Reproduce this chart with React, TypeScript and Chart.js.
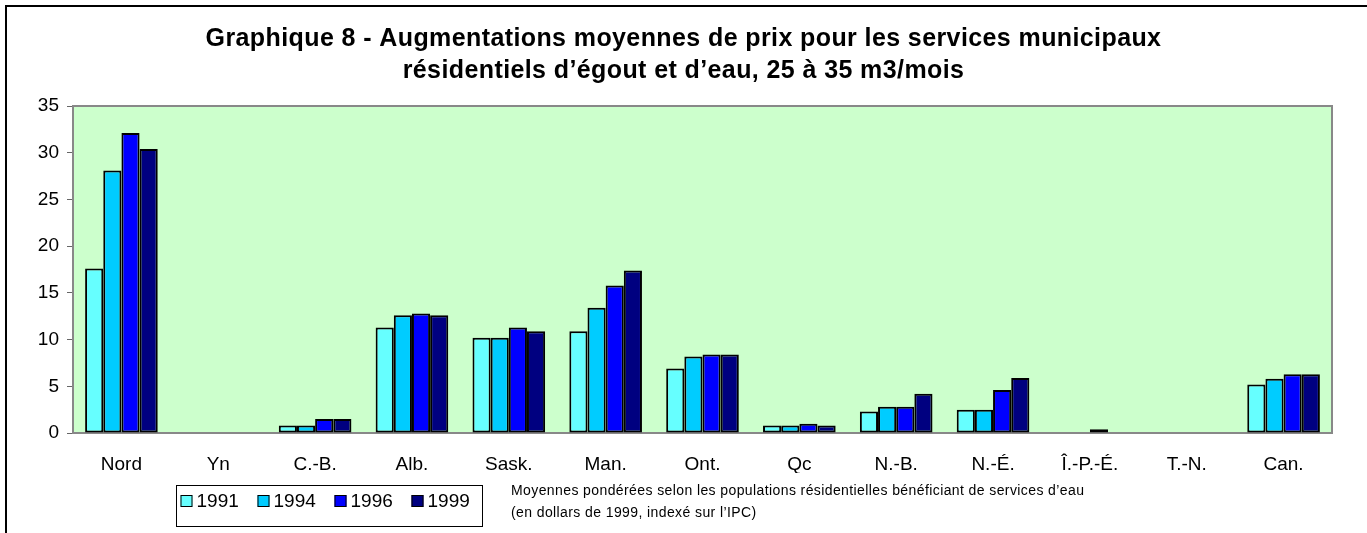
import React, { useEffect, useRef } from "react";
import { Chart, registerables } from "chart.js";

Chart.register(...registerables);

const categories = ["Nord", "Yn", "C.-B.", "Alb.", "Sask.", "Man.", "Ont.", "Qc", "N.-B.", "N.-É.", "Î.-P.-É.", "T.-N.", "Can."];
const seriesNames = ["1991", "1994", "1996", "1999"];
const v1991 = [17.6, null, 0.8, 11.3, 10.2, 10.9, 6.9, 0.8, 2.3, 2.5, null, null, 5.2];
const v1994 = [28.1, null, 0.8, 12.6, 10.2, 13.4, 8.2, 0.8, 2.8, 2.5, null, null, 5.8];
const v1996 = [32.1, null, 1.5, 12.8, 11.3, 15.8, 8.4, 1.0, 2.8, 4.6, 0.4, null, 6.3];
const v1999 = [30.4, null, 1.5, 12.6, 10.9, 17.4, 8.4, 0.8, 4.2, 5.9, null, null, 6.3];
const seriesColors = ["#66FFFF", "#00CCFF", "#0000FF", "#000080"];
const titleLines = [
  "Graphique 8 - Augmentations moyennes de prix pour les services municipaux",
  "résidentiels d’égout et d’eau, 25 à 35 m3/mois",
];
const noteLines = [
  "Moyennes pondérées selon les populations résidentielles bénéficiant de services d’eau",
  "(en dollars de 1999, indexé sur l’IPC)",
];

const FONT = "'Liberation Sans', Arial, sans-serif";
const W = 1367;
const H = 533;

const decorPlugin = {
  id: "decor",
  beforeDraw(chart: any) {
    const { ctx, chartArea } = chart;
    ctx.save();
    ctx.fillStyle = "#ffffff";
    ctx.fillRect(0, 0, W, H);
    ctx.fillStyle = "#CCFFCC";
    ctx.fillRect(chartArea.left, chartArea.top, chartArea.right - chartArea.left, chartArea.bottom - chartArea.top);
    ctx.restore();
  },
  afterDraw(chart: any) {
    const { ctx, chartArea } = chart;
    ctx.save();
    // outer frame (top and left)
    ctx.strokeStyle = "#000000";
    ctx.lineWidth = 2;
    ctx.beginPath();
    ctx.moveTo(6, H);
    ctx.lineTo(6, 6);
    ctx.lineTo(W, 6);
    ctx.stroke();
    // plot area border (top, right)
    ctx.strokeStyle = "#888888";
    ctx.lineWidth = 2;
    ctx.beginPath();
    ctx.moveTo(chartArea.left, chartArea.top);
    ctx.lineTo(chartArea.right, chartArea.top);
    ctx.lineTo(chartArea.right, chartArea.bottom);
    ctx.stroke();
    // title
    ctx.fillStyle = "#000000";
    ctx.font = `bold 25px ${FONT}`;
    (ctx as any).letterSpacing = "0.4px";
    ctx.textAlign = "center";
    ctx.textBaseline = "middle";
    ctx.fillText(titleLines[0], W / 2, 39);
    ctx.fillText(titleLines[1], W / 2, 71);
    (ctx as any).letterSpacing = "0px";
    // legend
    const bx = 176.5, by = 485.5, bw = 306, bh = 41;
    ctx.strokeStyle = "#000000";
    ctx.lineWidth = 1;
    ctx.strokeRect(bx, by, bw, bh);
    ctx.font = `19px ${FONT}`;
    ctx.textAlign = "left";
    ctx.textBaseline = "middle";
    const cy = 501;
    let x = bx + 4;
    seriesNames.forEach((name, i) => {
      ctx.fillStyle = seriesColors[i];
      ctx.fillRect(x, cy - 6, 12, 12);
      ctx.strokeStyle = "#000000";
      ctx.strokeRect(x + 0.5, cy - 5.5, 11, 11);
      ctx.fillStyle = "#000000";
      ctx.fillText(name, x + 16, cy + 1);
      x += 77;
    });
    // note
    ctx.font = `14px ${FONT}`;
    (ctx as any).letterSpacing = "0.4px";
    ctx.fillText(noteLines[0], 511, 491);
    ctx.fillText(noteLines[1], 511, 513);
    (ctx as any).letterSpacing = "0px";
    ctx.restore();
  },
};

export default function App() {
  const ref = useRef<HTMLCanvasElement | null>(null);
  useEffect(() => {
    if (!ref.current) return;
    Chart.defaults.font.family = FONT;
    const datasets = [v1991, v1994, v1996, v1999].map((d, i) => ({
      label: seriesNames[i],
      data: d,
      backgroundColor: seriesColors[i],
      borderColor: "#000000",
      borderWidth: 2,
      borderSkipped: false as any,
      categoryPercentage: 0.75,
      barPercentage: 1.0,
    }));
    const chart = new Chart(ref.current, {
      type: "bar",
      data: { labels: categories, datasets },
      plugins: [decorPlugin],
      options: {
        responsive: false,
        animation: false,
        devicePixelRatio: 1,
        layout: { padding: { left: 0, top: 106, right: 35, bottom: 60 } },
        plugins: {
          legend: { display: false },
          title: { display: false },
          tooltip: { enabled: false },
        },
        scales: {
          x: {
            afterFit: (s: any) => { s.height = 40; },
            grid: { display: false, drawTicks: false },
            border: { display: true, color: "#888888", width: 2 },
            ticks: { color: "#000000", font: { size: 19 }, padding: 20, maxRotation: 0, autoSkip: false },
          },
          y: {
            min: 0,
            max: 35,
            afterFit: (s: any) => { s.width = 73; },
            grid: { drawOnChartArea: false, drawTicks: true, tickLength: 6, color: "#666666" },
            border: { display: true, color: "#888888", width: 2 },
            ticks: { stepSize: 5, color: "#000000", font: { size: 19 }, padding: 8 },
          },
        },
      },
    });
    return () => chart.destroy();
  }, []);
  return (
    <div style={{ position: "absolute", left: 0, top: 0, width: W, height: H }}>
      <canvas ref={ref} width={W} height={H} style={{ display: "block", width: W, height: H }} />
    </div>
  );
}
